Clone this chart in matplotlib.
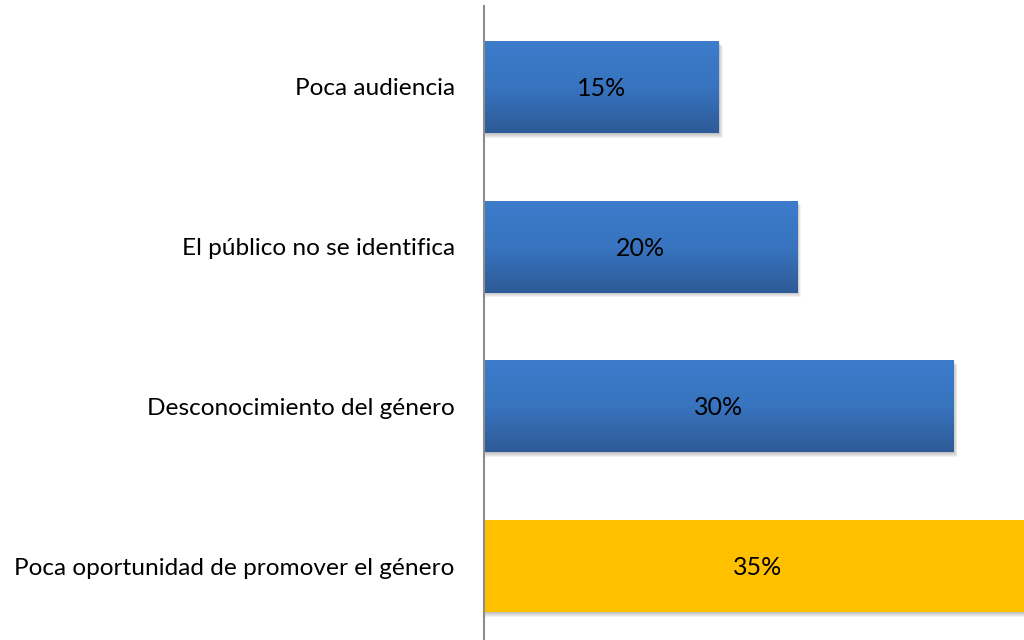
import matplotlib.pyplot as plt
import numpy as np
from matplotlib.colors import LinearSegmentedColormap

# Data (bottom to top)
categories = ['Poca oportunidad de promover el género',
              'Desconocimiento del género',
              'El público no se identifica',
              'Poca audiencia']
values = [35, 30, 20, 15]
bar_colors = ['#FFC000', 'blue', 'blue', 'blue']

plt.rcParams['font.family'] = ['Lato', 'DejaVu Sans']

fig = plt.figure(figsize=(10.24, 6.4), dpi=100)
ax = fig.add_axes([484 / 1024, 0, 1 - 484 / 1024, 1 - 6 / 640])

y = np.arange(len(categories))
h = 0.575
blue_cmap = LinearSegmentedColormap.from_list('bl', ['#2E5A97', '#3874BF', '#3C7CCB'])

for i, (v, c) in enumerate(zip(values, bar_colors)):
    # soft shadow
    for k in range(5):
        off = 0.006 + k * 0.006
        ax.add_patch(plt.Rectangle((0, y[i] - h / 2 - off), v + off * 8, h,
                                   color='black', alpha=0.05, lw=0, zorder=1))
    fc = '#FFC000' if c != 'blue' else '#3570B5'
    bar = ax.barh(y[i], v, height=h, color=fc, zorder=2)[0]
    if c == 'blue':
        grad = np.linspace(0, 1, 256).reshape(-1, 1)
        im = ax.imshow(grad, cmap=blue_cmap, aspect='auto', origin='lower',
                       extent=[0, v, y[i] - h / 2, y[i] + h / 2], zorder=3)
        im.set_clip_path(bar)
    ax.text(v / 2, y[i] - 0.01, f'{v}%', ha='center', va='center', fontsize=18,
            color='black', zorder=4)

ax.set_xlim(0, 34.5)
ax.set_ylim(-0.4625, 3.506)
ax.set_yticks(y)
ax.set_yticklabels(categories, fontsize=17.6)
ax.tick_params(axis='y', length=0, pad=21)
ax.set_xticks([])
for s in ['top', 'right', 'bottom']:
    ax.spines[s].set_visible(False)
ax.spines['left'].set_color('#8C8C8C')
ax.spines['left'].set_linewidth(1.5)
ax.spines['left'].set_zorder(5)

fig.savefig('out.png', dpi=100)
